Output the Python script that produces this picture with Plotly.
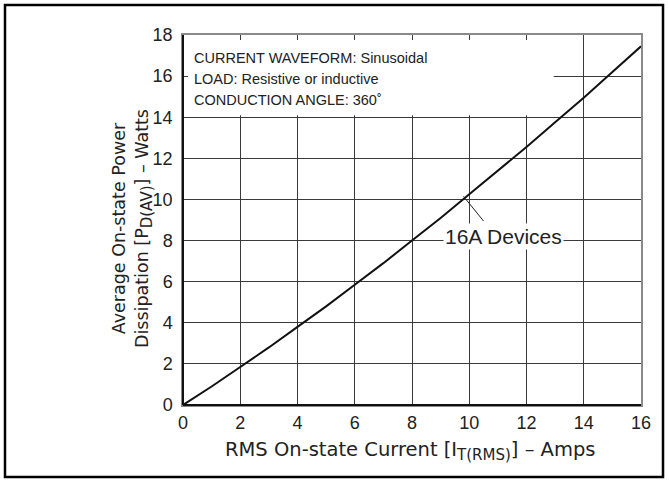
import plotly.graph_objects as go

# RMS on-state current (A) and average on-state power dissipation (W)
courant = [0, 1, 2, 3, 4, 5, 6, 7, 8, 9, 10, 11, 12, 13, 14, 15, 16]
puissance = [0, 0.9, 1.85, 2.8, 3.8, 4.8, 5.85, 6.9, 8.0, 9.1, 10.25,
             11.4, 12.55, 13.75, 14.95, 16.2, 17.45]

x_ticks = [0, 2, 4, 6, 8, 10, 12, 14, 16]
y_ticks = [0, 2, 4, 6, 8, 10, 12, 14, 16, 18]

conditions = ["CURRENT WAVEFORM: Sinusoidal",
              "LOAD: Resistive or inductive",
              "CONDUCTION ANGLE: 360˚"]

police = "Liberation Sans, Arial, sans-serif"
police_large = "DejaVu Sans, sans-serif"
texte = "#222222"

fig = go.Figure()
fig.add_trace(go.Scatter(x=courant, y=puissance, mode="lines",
                         line=dict(color="#111111", width=2), hoverinfo="skip"))

axe = dict(showgrid=True, gridcolor="#3a3a3a", gridwidth=1,
           showline=True, linecolor="#8a8a8a", linewidth=1.5, mirror="allticks",
           ticks="inside", ticklen=5, tickcolor="#3a3a3a", tickwidth=1,
           zeroline=False, tickfont=dict(family=police, size=18, color=texte))

fig.update_layout(
    width=669, height=482,
    margin=dict(l=183, r=28, t=35, b=77),
    paper_bgcolor="white", plot_bgcolor="white",
    showlegend=False,
    xaxis=dict(range=[0, 16], tickvals=x_ticks, ticklabelstandoff=1, **axe),
    yaxis=dict(range=[0, 18], tickvals=y_ticks, ticklabelstandoff=5, **axe),
)

# cadre noir autour de la figure
fig.add_shape(type="rect", xref="paper", yref="paper",
              x0=-178 / 458, x1=1 + 22 / 458, y0=-72 / 370, y1=1 + 30 / 370,
              line=dict(color="black", width=2.5), fillcolor="rgba(0,0,0,0)")

# axes gauche et bas plus foncés
fig.add_shape(type="line", xref="paper", yref="paper", x0=0, x1=0, y0=0, y1=1,
              line=dict(color="#111111", width=2))
fig.add_shape(type="line", xref="paper", yref="paper", x0=0, x1=1, y0=0, y1=0,
              line=dict(color="#111111", width=2))

# fond blanc sous le texte des conditions
fig.add_shape(type="rect", xref="x", yref="y", x0=0.05, x1=12.95, y0=14.1, y1=17.95,
              layer="between", line=dict(width=0), fillcolor="white")

for i, ligne in enumerate(conditions):
    fig.add_annotation(x=0.3, y=16.9 - i * 1.02, xref="x", yref="y", text=ligne,
                       showarrow=False, xanchor="left", yanchor="middle",
                       font=dict(family=police, size=14.5, color=texte))

# étiquette de la courbe
fig.add_annotation(x=11.2, y=8.2, xref="x", yref="y", text="16A Devices",
                   showarrow=False, bgcolor="white", borderpad=1,
                   font=dict(family=police, size=21, color=texte))
fig.add_shape(type="line", xref="x", yref="y", x0=9.8, y0=10.15, x1=10.5, y1=8.95,
              line=dict(color="#222222", width=1))

# titres des axes
fig.add_annotation(x=0.497, y=-0.124, xref="paper", yref="paper",
                   text="RMS On-state Current [I<sub><span style='font-size:15px'>T(RMS)</span></sub>] – Amps",
                   showarrow=False, xanchor="center", yanchor="middle",
                   font=dict(family=police_large, size=19.5, color=texte))
fig.add_annotation(x=-0.111, y=0.476, xref="paper", yref="paper",
                   text="Average On-state Power<br>Dissipation [P<sub><span style='font-size:15px'>D(AV)</span></sub>] – Watts",
                   showarrow=False, textangle=-90, xanchor="center", yanchor="middle",
                   font=dict(family=police_large, size=17.5, color=texte))

fig.write_html("out.html", config={"displayModeBar": False},
               post_script="document.body.style.margin='0px';")
